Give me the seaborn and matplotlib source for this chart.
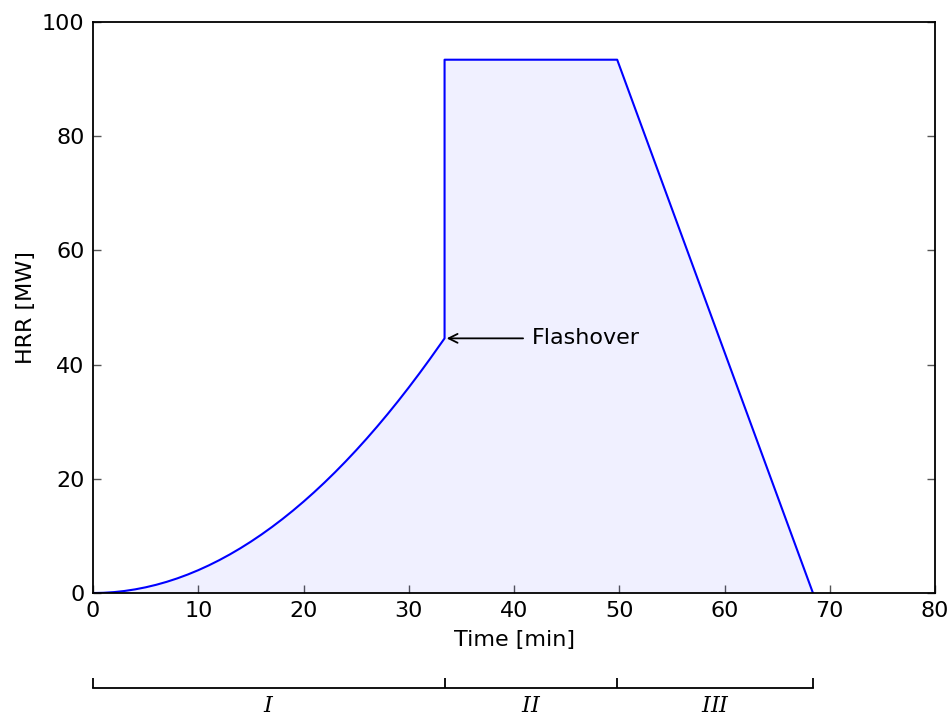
"""
Design fire curve: t-squared growth, flashover, fully developed phase, linear decay.
"""

import matplotlib
matplotlib.use("Agg")
import matplotlib.pyplot as plt
import pandas as pd
import seaborn as sns

# growth phase (min, MW)
growth_time = [0, 1, 2, 3, 4, 5, 6, 7, 8, 9, 10, 11, 12, 13, 14, 15, 16, 17,
               18, 19, 20, 21, 22, 23, 24, 25, 26, 27, 28, 29, 30, 31, 32, 33, 33.4]
growth_hrr = [0, 0.04, 0.16, 0.36, 0.64, 1.0, 1.44, 1.96, 2.56, 3.24, 4.0, 4.84,
              5.76, 6.76, 7.84, 9.0, 10.24, 11.56, 12.96, 14.44, 16.0, 17.64,
              19.36, 21.16, 23.04, 25.0, 27.04, 29.16, 31.36, 33.64, 36.0, 38.44,
              40.96, 43.56, 44.6]

# flashover jump, plateau end, end of decay
late_time = [33.4, 49.8, 68.4]
late_hrr = [93.4, 93.4, 0.0]

flashover_time = 33.4
flashover_hrr = 44.6

phase_bounds = [0, 33.4, 49.8, 68.4]
phase_labels = [r"$I$", r"$II$", r"$III$"]

x_ticks = [0, 10, 20, 30, 40, 50, 60, 70, 80]
y_ticks = [0, 20, 40, 60, 80, 100]

sns.set_style("white")
plt.rcParams["font.family"] = ["DejaVu Sans"]
plt.rcParams["mathtext.fontset"] = "dejavuserif"
plt.rcParams["text.color"] = "black"
plt.rcParams["axes.labelcolor"] = "black"

df = pd.DataFrame({"time": growth_time + late_time, "hrr": growth_hrr + late_hrr})

fig = plt.figure(figsize=(9.52, 7.15), dpi=100)
ax = fig.add_axes([0.0977, 0.1706, 0.8845, 0.7986])

sns.lineplot(data=df, x="time", y="hrr", sort=False, estimator=None,
             color="blue", linewidth=1.5, ax=ax)
ax.fill_between(df["time"], df["hrr"], color="blue", alpha=0.06, linewidth=0)

ax.annotate("Flashover", xy=(flashover_time + 0.2, flashover_hrr),
            xytext=(41.7, flashover_hrr), fontsize=16, va="center", ha="left",
            color="black",
            arrowprops=dict(arrowstyle="->", color="black", lw=1.3, shrinkA=4, shrinkB=0))

ax.set_xlim(0, 80)
ax.set_ylim(0, 100)
ax.set_xticks(x_ticks)
ax.set_yticks(y_ticks)
ax.set_xlabel("Time [min]", fontsize=16, labelpad=6, color="black")
ax.set_ylabel("HRR [MW]", fontsize=16, labelpad=4, color="black")
ax.tick_params(direction="in", length=6, width=1, colors="#555555",
               labelcolor="black", labelsize=16, pad=6,
               bottom=True, left=True, right=True, top=False)
for spine in ax.spines.values():
    spine.set_visible(True)
    spine.set_color("black")
    spine.set_linewidth(1.3)

# phase bracket below the chart
bx = fig.add_axes([0.0977, 0.0378, 0.8845, 0.001])
bx.set_xlim(0, 80)
bx.set_facecolor("none")
for name in ["top", "left", "right"]:
    bx.spines[name].set_visible(False)
bx.spines["bottom"].set_visible(True)
bx.spines["bottom"].set_color("black")
bx.spines["bottom"].set_linewidth(1.3)
bx.spines["bottom"].set_bounds(phase_bounds[0], phase_bounds[-1])
bx.set_yticks([])
bx.set_xticks(phase_bounds)
bx.set_xticklabels([])
centers = [(a + b) / 2 for a, b in zip(phase_bounds[:-1], phase_bounds[1:])]
bx.set_xticks(centers, minor=True)
bx.set_xticklabels(phase_labels, minor=True, fontsize=16, color="black")
bx.tick_params(axis="x", which="major", direction="in", length=7, width=1.3,
               color="black", bottom=True)
bx.tick_params(axis="x", which="minor", length=0, pad=6, bottom=True)

fig.savefig("out.png", dpi=100)
